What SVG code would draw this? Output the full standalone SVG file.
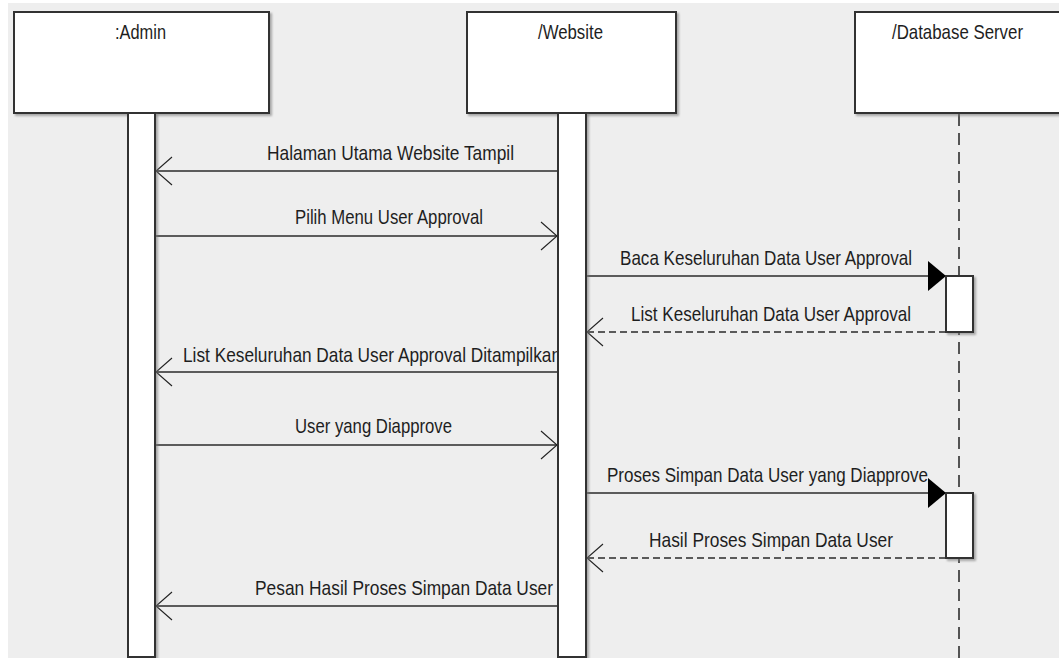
<svg xmlns="http://www.w3.org/2000/svg" width="1059" height="658" viewBox="0 0 1059 658">
  <style>
    .bg { fill: #eeeeee; }
    .box { fill: #ffffff; stroke: #333333; stroke-width: 2; filter: url(#shadow); }
    .act { fill: #ffffff; stroke: #333333; stroke-width: 2; filter: url(#shadow); }
    .life { stroke: #222222; stroke-width: 1.5; stroke-dasharray: 12 7; fill: none; }
    .msg { stroke: #2a2a2a; stroke-width: 1.6; fill: none; }
    .ret { stroke: #2a2a2a; stroke-width: 1.6; fill: none; stroke-dasharray: 7 4; }
    .lbl { font-family: "Liberation Sans", Arial, sans-serif; font-size: 21px; fill: #1e1e1e; }
  </style>
  <defs>
    <filter id="shadow" x="-10%" y="-10%" width="130%" height="130%">
      <feDropShadow dx="2" dy="2" stdDeviation="1.2" flood-color="#777777" flood-opacity="0.6"/>
    </filter>
    <marker id="open" markerUnits="userSpaceOnUse" viewBox="-20 -17 22 34" markerWidth="22" markerHeight="34" refX="0" refY="0" orient="auto">
      <path d="M -16 -14 L 0 0 L -16 14" fill="none" stroke="#222222" stroke-width="1.1"/>
    </marker>
    <marker id="solid" markerUnits="userSpaceOnUse" viewBox="-20 -17 22 34" markerWidth="22" markerHeight="34" refX="0" refY="0" orient="auto">
      <path d="M -18 -15 L 0 0 L -18 15 Z" fill="#000000"/>
    </marker>
  </defs>

  <!-- canvas -->
  <rect x="0" y="0" width="1059" height="658" fill="#ffffff"/>
  <rect class="bg" x="8" y="3" width="1051" height="655"/>

  <!-- lifeline heads -->
  <g id="admin">
    <rect class="box" x="14" y="12" width="255" height="101"/>
    <text class="lbl" x="115" y="39" textLength="51" lengthAdjust="spacingAndGlyphs">:Admin</text>
  </g>
  <g id="website">
    <rect class="box" x="467" y="12" width="209" height="101"/>
    <text class="lbl" x="538" y="39" textLength="65" lengthAdjust="spacingAndGlyphs">/Website</text>
  </g>
  <g id="database-server">
    <line class="life" x1="959" y1="114" x2="959" y2="658"/>
    <rect class="box" x="855" y="12" width="210" height="101"/>
    <text class="lbl" x="892" y="39" textLength="131" lengthAdjust="spacingAndGlyphs">/Database Server</text>
  </g>

  <!-- messages -->
  <g id="connectors">
    <line class="msg" x1="558" y1="171" x2="156" y2="171" marker-end="url(#open)"/>
    <text class="lbl" x="267" y="160" textLength="247" lengthAdjust="spacingAndGlyphs">Halaman Utama Website Tampil</text>

    <line class="msg" x1="155" y1="236" x2="557" y2="236" marker-end="url(#open)"/>
    <text class="lbl" x="295" y="224" textLength="188" lengthAdjust="spacingAndGlyphs">Pilih Menu User Approval</text>

    <line class="msg" x1="586" y1="276" x2="946" y2="276" marker-end="url(#solid)"/>
    <text class="lbl" x="620" y="265" textLength="292" lengthAdjust="spacingAndGlyphs">Baca Keseluruhan Data User Approval</text>

    <line class="ret" x1="946" y1="332" x2="587" y2="332" marker-end="url(#open)"/>
    <text class="lbl" x="631" y="321" textLength="280" lengthAdjust="spacingAndGlyphs">List Keseluruhan Data User Approval</text>

    <line class="msg" x1="558" y1="372" x2="156" y2="372" marker-end="url(#open)"/>
    <text class="lbl" x="183" y="362" textLength="378" lengthAdjust="spacingAndGlyphs">List Keseluruhan Data User Approval Ditampilkan</text>

    <line class="msg" x1="155" y1="445" x2="557" y2="445" marker-end="url(#open)"/>
    <text class="lbl" x="295" y="433" textLength="157" lengthAdjust="spacingAndGlyphs">User yang Diapprove</text>

    <line class="msg" x1="586" y1="493" x2="946" y2="493" marker-end="url(#solid)"/>
    <text class="lbl" x="607" y="482" textLength="321" lengthAdjust="spacingAndGlyphs">Proses Simpan Data User yang Diapprove</text>

    <line class="ret" x1="946" y1="558" x2="587" y2="558" marker-end="url(#open)"/>
    <text class="lbl" x="649" y="547" textLength="244" lengthAdjust="spacingAndGlyphs">Hasil Proses Simpan Data User</text>

    <line class="msg" x1="558" y1="606" x2="156" y2="606" marker-end="url(#open)"/>
    <text class="lbl" x="255" y="595" textLength="298" lengthAdjust="spacingAndGlyphs">Pesan Hasil Proses Simpan Data User</text>
  </g>

  <!-- activation bars -->
  <g id="admin-activation">
    <rect class="act" x="128" y="113" width="27" height="544"/>
  </g>
  <g id="website-activation">
    <rect class="act" x="558" y="113" width="28" height="544"/>
  </g>
  <g id="database-activation-1">
    <rect class="act" x="946" y="276" width="27" height="56"/>
  </g>
  <g id="database-activation-2">
    <rect class="act" x="946" y="493" width="27" height="65"/>
  </g>
</svg>
